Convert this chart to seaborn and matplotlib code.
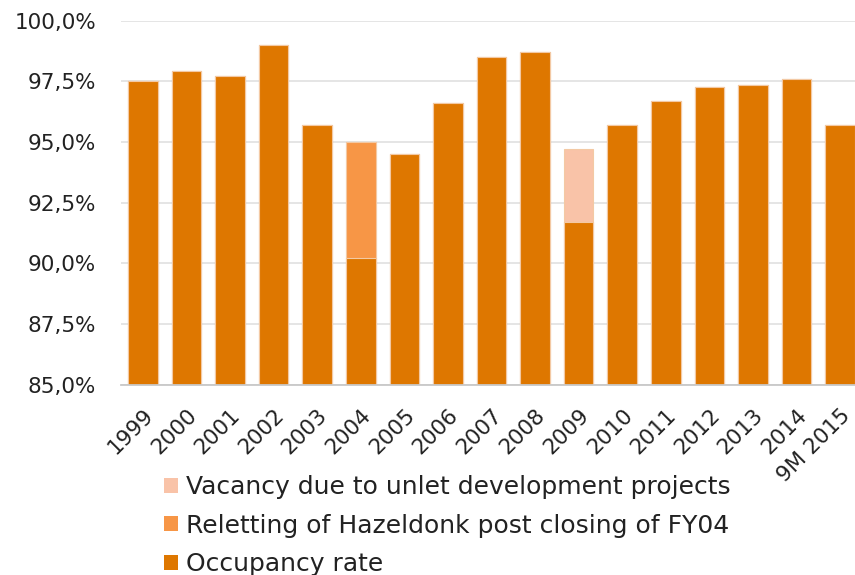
import matplotlib
matplotlib.use("Agg")
import matplotlib.pyplot as plt
from matplotlib.patches import Patch
from matplotlib.ticker import FuncFormatter
import seaborn as sns
import pandas as pd

# Chart values
years = ["1999", "2000", "2001", "2002", "2003", "2004", "2005", "2006", "2007",
         "2008", "2009", "2010", "2011", "2012", "2013", "2014", "9M 2015"]
occupancy = [97.5, 97.9, 97.7, 99.0, 95.7, 90.2, 94.5, 96.6, 98.5,
             98.7, 91.7, 95.7, 96.7, 97.25, 97.35, 97.6, 95.7]
reletting = [0, 0, 0, 0, 0, 4.8, 0, 0, 0, 0, 0, 0, 0, 0, 0, 0, 0]
vacancy = [0, 0, 0, 0, 0, 0, 0, 0, 0, 0, 3.0, 0, 0, 0, 0, 0, 0]

series_names = ["Vacancy due to unlet development projects",
                "Reletting of Hazeldonk post closing of FY04",
                "Occupancy rate"]
colors = ["#F9C3A8", "#F79646", "#DE7700"]

df = pd.DataFrame({"year": years, "occ": occupancy, "rel": reletting, "vac": vacancy})
df["top_rel"] = df["occ"] + df["rel"]
df["top_vac"] = df["top_rel"] + df["vac"]

sns.set_style("white")
plt.rcParams["font.family"] = ["DejaVu Sans"]

fig = plt.figure(figsize=(8.55, 5.75), dpi=100)
ax = fig.add_axes([121 / 855, 1 - 384.5 / 575, 741 / 855, 364 / 575])

# Stacked bars drawn as cumulative totals, tallest first
for col, c in zip(["top_vac", "top_rel", "occ"], colors):
    sns.barplot(data=df, x="year", y=col, color=c, width=0.68, ax=ax,
                edgecolor="#F3C9A4", linewidth=0.8, saturation=1, zorder=2)

ax.set_ylim(85, 100)
ax.set_yticks([85, 87.5, 90, 92.5, 95, 97.5, 100])
ax.yaxis.set_major_formatter(FuncFormatter(lambda v, p: f"{v:.1f}%".replace(".", ",")))
ax.grid(axis="y", color="#E3E3E3", linewidth=1.3, zorder=0)
ax.set_axisbelow(True)
for s in ["left", "right", "top"]:
    ax.spines[s].set_visible(False)
ax.spines["bottom"].set_color("#C8C8C8")
ax.spines["bottom"].set_linewidth(1.3)
ax.tick_params(axis="both", length=0, colors="#222222", labelsize=15.5)
ax.tick_params(axis="y", pad=18)
ax.tick_params(axis="x", pad=15)
ax.set_xlabel("")
ax.set_ylabel("")
plt.setp(ax.get_xticklabels(), rotation=45, ha="right", va="top", rotation_mode="anchor")

handles = [Patch(facecolor=c, edgecolor="none") for c in colors]
fig.legend(handles, series_names, loc="upper left", bbox_to_anchor=(164 / 855, 1 - 475 / 575),
           frameon=False, fontsize=18, handlelength=0.56, handleheight=0.56,
           handletextpad=0.3, labelspacing=0.58, borderpad=0, borderaxespad=0,
           labelcolor="#222222")

fig.savefig("out.png", dpi=100)
